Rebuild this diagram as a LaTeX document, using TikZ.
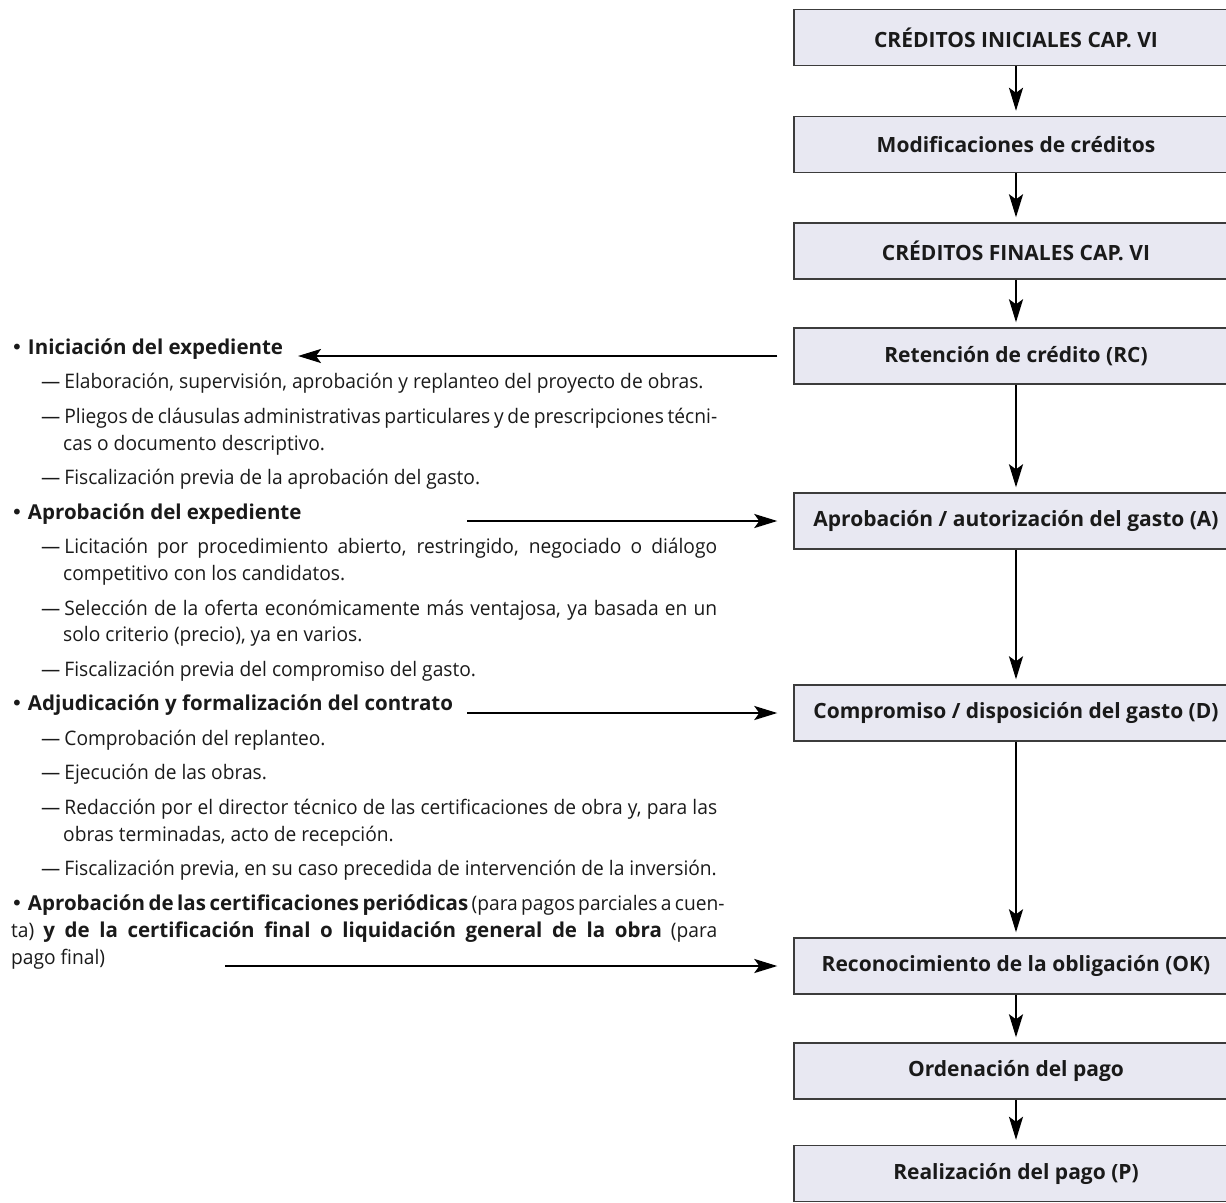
\documentclass[tikz,border=0pt]{standalone}
\usepackage{fontspec}
\setmainfont{Open Sans}
\newfontfamily\bodyfont{Open Sans}[FakeStretch=0.96]
\newfontfamily\hdfont{Open Sans}
\newfontfamily\symfont{DejaVu Sans}
\usetikzlibrary{arrows.meta,calc}
\definecolor{boxfill}{HTML}{E8E8F2}
\definecolor{boxline}{HTML}{3C3C3C}
\definecolor{ink}{HTML}{1A1A1A}
\newcommand\mydash{—\kern4pt}
\newcommand\mybul{{\symfont •}\kern5pt}
\newcommand\hd[1]{{\hdfont\bfseries\fontsize{20.5}{24}\selectfont #1}}
\begin{document}
\begin{tikzpicture}[x=1pt,y=-1pt,
  flowbox/.style={draw=boxline,line width=1.4pt,fill=boxfill,minimum width=444pt,minimum height=56pt,inner sep=0pt,text=ink,font=\hdfont\fontsize{21}{24}\selectfont\bfseries},
  txt/.style={anchor=base west,inner sep=0pt,text=ink,font=\bodyfont\fontsize{20}{24}\selectfont},
  arr/.style={line width=2.3pt,-{Stealth[length=23pt,width=14pt,inset=5pt]}},
  varr/.style={arr,shorten >=5pt}]
\useasboundingbox (0,0) rectangle (1226,1202);
\clip (0,0) rectangle (1226,1202);

% flow boxes
\node[flowbox] (b1) at (1016,37.5) {CRÉDITOS INICIALES CAP. VI};
\node[flowbox] (b2) at (1016,144.5) {Modificaciones de créditos};
\node[flowbox] (b3) at (1016,251) {CRÉDITOS FINALES CAP. VI};
\node[flowbox] (b4) at (1016,356) {Retención de crédito (RC)};
\node[flowbox] (b5) at (1016,521) {Aprobación / autorización del gasto (A)};
\node[flowbox] (b6) at (1016,713) {Compromiso / disposición del gasto (D)};
\node[flowbox] (b7) at (1016,966) {Reconocimiento de la obligación (OK)};
\node[flowbox] (b8) at (1016,1071) {Ordenación del pago};
\node[flowbox] (b9) at (1016,1173.5) {Realización del pago (P)};

\draw[varr] (b1) -- (b2);
\draw[varr] (b2) -- (b3);
\draw[varr] (b3) -- (b4);
\draw[varr] (b4) -- (b5);
\draw[varr] (b5) -- (b6);
\draw[varr] (b6) -- (b7);
\draw[varr] (b7) -- (b8);
\draw[varr] (b8) -- (b9);

% left text
\node[txt] (l0) at (11,354) {\mybul\hd{Iniciación del expediente}};
\node[txt] (l1) at (41,388.5) {\mydash Elaboración, supervisión, aprobación y replanteo del proyecto de obras.};
\node[txt] (l2) at (41,423) {\makebox[676pt][s]{\mydash Pliegos de cláusulas administrativas particulares y de prescripciones técni-}};
\node[txt] (l3) at (63,450) {cas o documento descriptivo.};
\node[txt] (l4) at (41,484.5) {\mydash Fiscalización previa de la aprobación del gasto.};
\node[txt] (l5) at (11,519) {\mybul\hd{Aprobación del expediente}};
\node[txt] (l6) at (41,553.5) {\makebox[676pt][s]{\mydash Licitación por procedimiento abierto, restringido, negociado o diálogo}};
\node[txt] (l7) at (63,580.3) {competitivo con los candidatos.};
\node[txt] (l8) at (41,615) {\makebox[676pt][s]{\mydash Selección de la oferta económicamente más ventajosa, ya basada en un}};
\node[txt] (l9) at (63,641.7) {solo criterio (precio), ya en varios.};
\node[txt] (l10) at (41,676.2) {\mydash Fiscalización previa del compromiso del gasto.};
\node[txt] (l11) at (11,710.8) {\mybul\hd{Adjudicación y formalización del contrato}};
\node[txt] (l12) at (41,745.3) {\mydash Comprobación del replanteo.};
\node[txt] (l13) at (41,779.9) {\mydash Ejecución de las obras.};
\node[txt] (l14) at (41,814.4) {\makebox[676pt][s]{\mydash Redacción por el director técnico de las certificaciones de obra y, para las}};
\node[txt] (l15) at (63,841.2) {obras terminadas, acto de recepción.};
\node[txt] (l16) at (41,875.8) {\mydash Fiscalización previa, en su caso precedida de intervención de la inversión.};
\node[txt] (l17) at (11,910.3) {\makebox[706pt][s]{\mybul\hd{Aprobación de las certificaciones periódicas} (para pagos parciales a cuen-}};
\node[txt] (l18) at (11,937.1) {\makebox[706pt][s]{ta) \hd{y de la certificación final o liquidación general de la obra} (para}};
\node[txt] (l19) at (11,964) {pago final)};

% horizontal connectors
\coordinate (t4) at (298,356);
\coordinate (s5) at (467,521);
\coordinate (s6) at (467,713);
\coordinate (s7) at (225,966);
\draw[arr] ($(b4.west)+(-16,0)$) -- (t4);
\draw[arr] (s5) -- ($(b5.west)+(-16,0)$);
\draw[arr] (s6) -- ($(b6.west)+(-16,0)$);
\draw[arr] (s7) -- ($(b7.west)+(-16,0)$);
\end{tikzpicture}
\end{document}
